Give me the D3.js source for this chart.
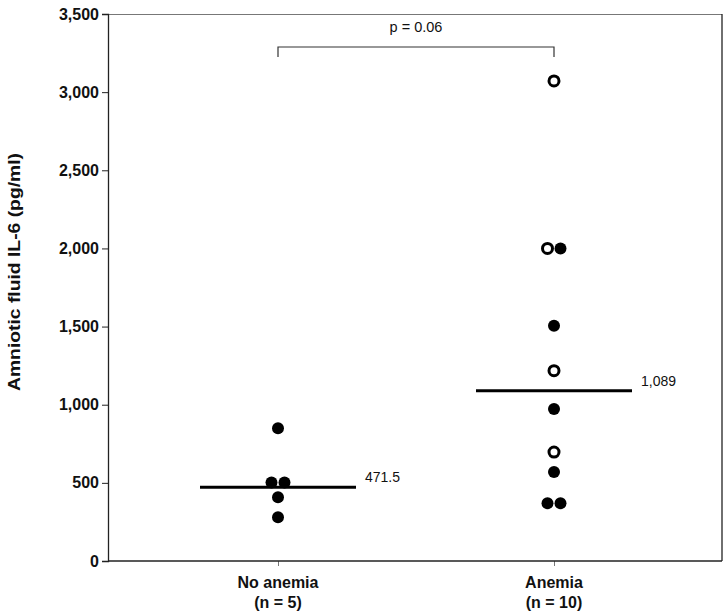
<!DOCTYPE html>
<html><head><meta charset="utf-8">
<script src="https://cdn.jsdelivr.net/npm/d3@7"></script>
<style>body{margin:0;background:#fff}svg{display:block}</style>
</head><body>
<svg id="c" width="728" height="616"></svg>
<script>
const categories = ["No anemia", "Anemia"];
const categorySub = ["(n = 5)", "(n = 10)"];
const noAnemiaValues = [850, 502, 502, 408, 280];
const noAnemiaOffsets = [0, -1, 1, 0, 0];
const noAnemiaOpen = [false, false, false, false, false];
const anemiaValues = [3072, 2000, 2000, 1506, 1218, 972, 697, 569, 370, 370];
const anemiaOffsets = [0, -1, 1, 0, 0, 0, 0, 0, -1, 1];
const anemiaOpen = [true, true, false, false, true, false, true, false, false, false];
const medians = [471.5, 1089];
const medianLabels = ["471.5", "1,089"];
const yTicks = [0, 500, 1000, 1500, 2000, 2500, 3000, 3500];
const pText = "p = 0.06";
const yTitle = "Amniotic fluid IL-6 (pg/ml)";

const FONT = "Arial, 'Liberation Sans', sans-serif";
const svg = d3.select("#c");
const L = 108, R = 722, T = 14, B = 561;
const y = d3.scaleLinear().domain([0, 3500]).range([B, T]);
const x = d3.scaleLinear().domain([0, 1]).range([278, 554]);

// frame
svg.append("line").attr("x1", L).attr("x2", R).attr("y1", T+0.5).attr("y2", T+0.5).attr("stroke", "#777").attr("stroke-width", 1.2);
svg.append("line").attr("x1", R).attr("x2", R).attr("y1", T).attr("y2", B).attr("stroke", "#222").attr("stroke-width", 1.3);

// y axis
const ya = svg.append("g").attr("transform", `translate(${L},0)`)
  .call(d3.axisLeft(y).tickValues(yTicks).tickSize(6).tickPadding(3).tickFormat(d3.format(",")));
ya.select(".domain").attr("stroke", "#222").attr("stroke-width", 1.3);
ya.selectAll(".tick line").attr("stroke", "#222");
ya.selectAll("text").attr("font-family", FONT).attr("font-size", 16).attr("font-weight", "bold").attr("fill", "#111");

// x axis
const xa = svg.append("g").attr("transform", `translate(0,${B})`)
  .call(d3.axisBottom(x).tickValues([0, 1]).tickSize(5).tickFormat(""));
xa.select(".domain").remove();
xa.selectAll(".tick line").attr("stroke", "#777");
svg.append("line").attr("x1", L).attr("x2", R).attr("y1", B).attr("y2", B).attr("stroke", "#222").attr("stroke-width", 1.3);

categories.forEach((c, i) => {
  svg.append("text").attr("x", x(i)).attr("y", 588).attr("text-anchor", "middle")
    .attr("font-family", FONT).attr("font-size", 16).attr("font-weight", "bold").attr("fill", "#111").text(c);
  svg.append("text").attr("x", x(i)).attr("y", 608).attr("text-anchor", "middle")
    .attr("font-family", FONT).attr("font-size", 16).attr("font-weight", "bold").attr("fill", "#111").text(categorySub[i]);
});

// y title
svg.append("text").attr("transform", `translate(20,272) rotate(-90)`).attr("text-anchor", "middle")
  .attr("font-family", FONT).attr("font-size", 17).attr("font-weight", "bold").attr("fill", "#111")
  .attr("textLength", 238).attr("lengthAdjust", "spacingAndGlyphs").text(yTitle);

// medians
medians.forEach((m, i) => {
  svg.append("line").attr("x1", x(i) - 78).attr("x2", x(i) + 78).attr("y1", y(m)).attr("y2", y(m))
    .attr("stroke", "#000").attr("stroke-width", 3);
  svg.append("text").attr("x", x(i) + 87).attr("y", y(m) - 5).attr("font-family", FONT)
    .attr("font-size", 14).attr("fill", "#111").text(medianLabels[i]);
});

// points
const groups = [
  {vals: noAnemiaValues, offs: noAnemiaOffsets, open: noAnemiaOpen},
  {vals: anemiaValues, offs: anemiaOffsets, open: anemiaOpen}
];
groups.forEach((g, i) => {
  g.vals.forEach((v, j) => {
    const cx = x(i) + g.offs[j] * 6.5;
    if (g.open[j]) {
      svg.append("circle").attr("cx", cx).attr("cy", y(v)).attr("r", 5).attr("fill", "#fff").attr("stroke", "#000").attr("stroke-width", 3);
    } else {
      svg.append("circle").attr("cx", cx).attr("cy", y(v)).attr("r", 6).attr("fill", "#000");
    }
  });
});

// bracket
const by = 47;
svg.append("path").attr("d", `M${x(0)},${by+10}V${by}H${x(1)}V${by+10}`).attr("fill", "none").attr("stroke", "#333").attr("stroke-width", 1.2);
svg.append("text").attr("x", (x(0)+x(1))/2).attr("y", 32).attr("text-anchor", "middle").attr("font-family", FONT)
  .attr("font-size", 14.5).attr("fill", "#111").text(pText);
</script>
</body></html>
